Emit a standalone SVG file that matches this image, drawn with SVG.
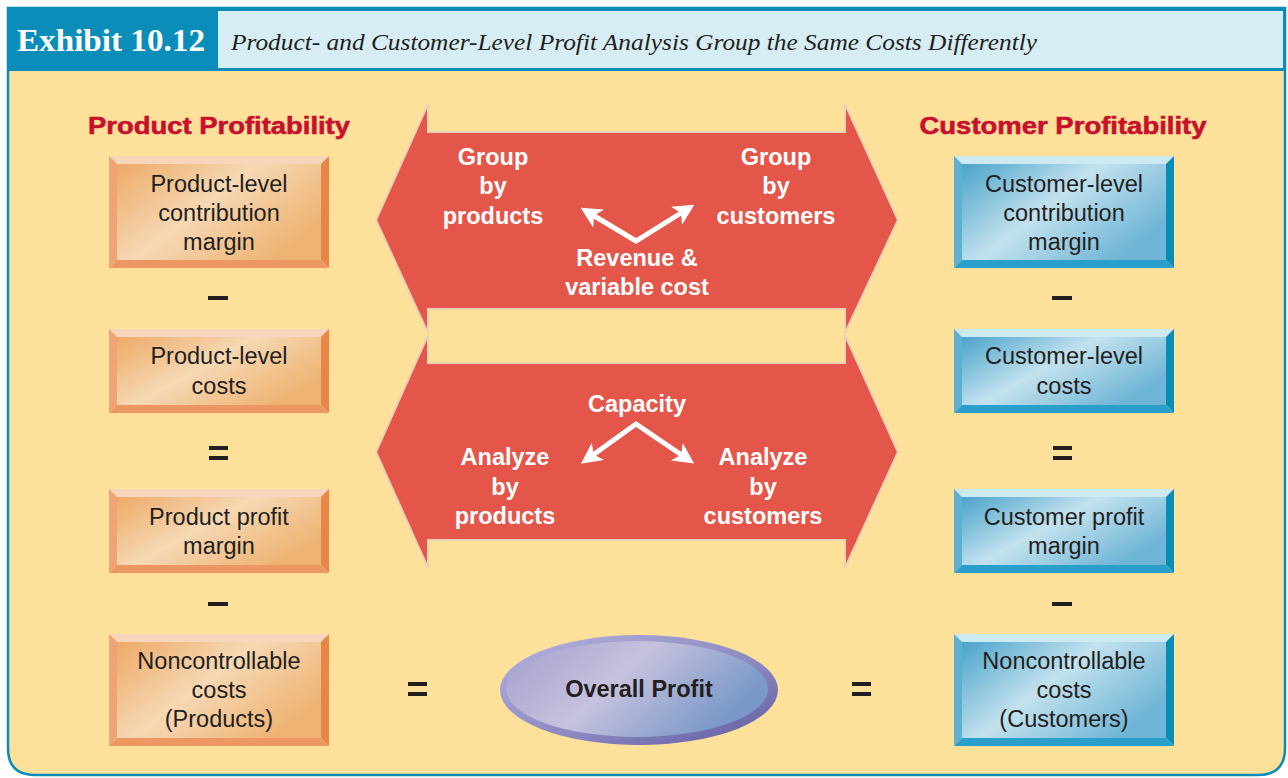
<svg xmlns="http://www.w3.org/2000/svg" width="1288" height="778" viewBox="0 0 1288 778">
  <defs>
    <linearGradient id="orangeFace" x1="0" y1="0" x2="1" y2="0.6">
      <stop offset="0" stop-color="#eeaa66"/>
      <stop offset="0.5" stop-color="#f6d8b4"/>
      <stop offset="1" stop-color="#efb474"/>
    </linearGradient>
    <linearGradient id="blueFace" x1="0" y1="0" x2="1" y2="0.6">
      <stop offset="0" stop-color="#4aa3cb"/>
      <stop offset="0.5" stop-color="#c3e2ee"/>
      <stop offset="1" stop-color="#6fb5d6"/>
    </linearGradient>
    <linearGradient id="ovalFace" x1="0" y1="0" x2="1" y2="0.4">
      <stop offset="0" stop-color="#a29fcc"/>
      <stop offset="0.5" stop-color="#c7c2de"/>
      <stop offset="1" stop-color="#7a98c8"/>
    </linearGradient>
    <linearGradient id="ovalRim" x1="0" y1="0" x2="1" y2="1">
      <stop offset="0" stop-color="#b4b3e0"/>
      <stop offset="0.6" stop-color="#8a86bf"/>
      <stop offset="1" stop-color="#5f5aa0"/>
    </linearGradient>
    <marker id="wh" viewBox="0 0 10 10" refX="7" refY="5" markerWidth="4.2" markerHeight="4.2" orient="auto-start-reverse" markerUnits="strokeWidth">
      <path d="M0,0 L10,5 L0,10 L2.5,5 z" fill="#ffffff"/>
    </marker>
    <style>
      .box text { font-family: "Liberation Sans", Arial, sans-serif; font-size: 23.5px; fill: #231f20; text-anchor: middle; }
      .hdr { font-family: "Liberation Sans", Arial, sans-serif; font-size: 24px; font-weight: bold; fill: #c8102e; stroke: #c8102e; stroke-width: 0.6; text-anchor: middle; }
      .wt { font-family: "Liberation Sans", Arial, sans-serif; font-size: 23.5px; font-weight: bold; fill: #ffffff; text-anchor: middle; }
      .band { fill: #e5564a; stroke: #ecd2b4; stroke-width: 2; }
      .wline { fill: none; stroke: #ffffff; stroke-width: 5; stroke-linejoin: miter; }
      .bar { fill: #231f20; }
    </style>
  </defs>

  <!-- frame -->
  <rect x="0" y="0" width="1288" height="778" fill="#ffffff"/>
  <path d="M8,8 H1285 V748 Q1285,775 1258,775 H35 Q8,775 8,748 Z" fill="#fde19b" stroke="#0a8db8" stroke-width="2.5"/>
  <rect x="8" y="8" width="1277" height="63" fill="#0a8db8"/>
  <rect x="218" y="11" width="1065" height="57" fill="#d6eef3"/>
  <text x="17" y="51" font-family="Liberation Serif, 'Times New Roman', serif" font-size="31" font-weight="bold" fill="#ffffff" textLength="188" lengthAdjust="spacingAndGlyphs">Exhibit 10.12</text>
  <text x="231" y="50" font-family="Liberation Serif, 'Times New Roman', serif" font-size="23" font-style="italic" fill="#231f20" textLength="806" lengthAdjust="spacingAndGlyphs">Product- and Customer-Level Profit Analysis Group the Same Costs Differently</text>

  <!-- column headings -->
  <text class="hdr" x="219" y="134" textLength="262" lengthAdjust="spacingAndGlyphs">Product Profitability</text>
  <text class="hdr" x="1063" y="134" textLength="287" lengthAdjust="spacingAndGlyphs">Customer Profitability</text>

  <!-- double-headed bands -->
  <g id="connectors">
    <polygon class="band" points="376,220 428,104 428,132 845,132 845,104 898,220 845,333 845,309 428,309 428,333"/>
    <polygon class="band" points="376,452 428,335 428,363 845,363 845,335 898,452 845,568 845,540 428,540 428,568"/>
    <polyline class="wline" points="586,211 636,241 689,208" marker-start="url(#wh)" marker-end="url(#wh)"/>
    <polyline class="wline" points="586,460 636,424 689,460" marker-start="url(#wh)" marker-end="url(#wh)"/>
    <text class="wt" x="493" y="165">Group</text>
    <text class="wt" x="493" y="194">by</text>
    <text class="wt" x="493" y="224">products</text>
    <text class="wt" x="776" y="165">Group</text>
    <text class="wt" x="776" y="194">by</text>
    <text class="wt" x="776" y="224">customers</text>
    <text class="wt" x="637" y="266">Revenue &amp;</text>
    <text class="wt" x="637" y="295">variable cost</text>
    <text class="wt" x="637" y="412">Capacity</text>
    <text class="wt" x="505" y="465">Analyze</text>
    <text class="wt" x="505" y="495">by</text>
    <text class="wt" x="505" y="524">products</text>
    <text class="wt" x="763" y="465">Analyze</text>
    <text class="wt" x="763" y="495">by</text>
    <text class="wt" x="763" y="524">customers</text>
  </g>

  <!-- product column -->
  <g id="p1" class="box">
    <polygon points="109,156 329,156 321,164 117,164" fill="#f8d6bb"/>
    <polygon points="109,156 117,164 117,260 109,268" fill="#f0a374"/>
    <polygon points="329,156 329,268 321,260 321,164" fill="#e8864a"/>
    <polygon points="109,268 117,260 321,260 329,268" fill="#ed9862"/>
    <rect x="117" y="164" width="204" height="96" fill="url(#orangeFace)"/>
    <text x="219" y="192">Product-level</text>
    <text x="219" y="221">contribution</text>
    <text x="219" y="250">margin</text>
  </g>
  <g id="p2" class="box">
    <polygon points="109,329 329,329 321,337 117,337" fill="#f8d6bb"/>
    <polygon points="109,329 117,337 117,405 109,413" fill="#f0a374"/>
    <polygon points="329,329 329,413 321,405 321,337" fill="#e8864a"/>
    <polygon points="109,413 117,405 321,405 329,413" fill="#ed9862"/>
    <rect x="117" y="337" width="204" height="68" fill="url(#orangeFace)"/>
    <text x="219" y="364">Product-level</text>
    <text x="219" y="394">costs</text>
  </g>
  <g id="p3" class="box">
    <polygon points="109,489 329,489 321,497 117,497" fill="#f8d6bb"/>
    <polygon points="109,489 117,497 117,565 109,573" fill="#f0a374"/>
    <polygon points="329,489 329,573 321,565 321,497" fill="#e8864a"/>
    <polygon points="109,573 117,565 321,565 329,573" fill="#ed9862"/>
    <rect x="117" y="497" width="204" height="68" fill="url(#orangeFace)"/>
    <text x="219" y="525">Product profit</text>
    <text x="219" y="554">margin</text>
  </g>
  <g id="p4" class="box">
    <polygon points="109,634 329,634 321,642 117,642" fill="#f8d6bb"/>
    <polygon points="109,634 117,642 117,738 109,746" fill="#f0a374"/>
    <polygon points="329,634 329,746 321,738 321,642" fill="#e8864a"/>
    <polygon points="109,746 117,738 321,738 329,746" fill="#ed9862"/>
    <rect x="117" y="642" width="204" height="96" fill="url(#orangeFace)"/>
    <text x="219" y="669">Noncontrollable</text>
    <text x="219" y="698">costs</text>
    <text x="219" y="727">(Products)</text>
  </g>

  <!-- customer column -->
  <g id="c1" class="box">
    <polygon points="954,156 1174,156 1166,164 962,164" fill="#cdeaf2"/>
    <polygon points="954,156 962,164 962,260 954,268" fill="#5cb1d3"/>
    <polygon points="1174,156 1174,268 1166,260 1166,164" fill="#0b8cb7"/>
    <polygon points="954,268 962,260 1166,260 1174,268" fill="#2a9fc9"/>
    <rect x="962" y="164" width="204" height="96" fill="url(#blueFace)"/>
    <text x="1064" y="192">Customer-level</text>
    <text x="1064" y="221">contribution</text>
    <text x="1064" y="250">margin</text>
  </g>
  <g id="c2" class="box">
    <polygon points="954,329 1174,329 1166,337 962,337" fill="#cdeaf2"/>
    <polygon points="954,329 962,337 962,405 954,413" fill="#5cb1d3"/>
    <polygon points="1174,329 1174,413 1166,405 1166,337" fill="#0b8cb7"/>
    <polygon points="954,413 962,405 1166,405 1174,413" fill="#2a9fc9"/>
    <rect x="962" y="337" width="204" height="68" fill="url(#blueFace)"/>
    <text x="1064" y="364">Customer-level</text>
    <text x="1064" y="394">costs</text>
  </g>
  <g id="c3" class="box">
    <polygon points="954,489 1174,489 1166,497 962,497" fill="#cdeaf2"/>
    <polygon points="954,489 962,497 962,565 954,573" fill="#5cb1d3"/>
    <polygon points="1174,489 1174,573 1166,565 1166,497" fill="#0b8cb7"/>
    <polygon points="954,573 962,565 1166,565 1174,573" fill="#2a9fc9"/>
    <rect x="962" y="497" width="204" height="68" fill="url(#blueFace)"/>
    <text x="1064" y="525">Customer profit</text>
    <text x="1064" y="554">margin</text>
  </g>
  <g id="c4" class="box">
    <polygon points="954,634 1174,634 1166,642 962,642" fill="#cdeaf2"/>
    <polygon points="954,634 962,642 962,738 954,746" fill="#5cb1d3"/>
    <polygon points="1174,634 1174,746 1166,738 1166,642" fill="#0b8cb7"/>
    <polygon points="954,746 962,738 1166,738 1174,746" fill="#2a9fc9"/>
    <rect x="962" y="642" width="204" height="96" fill="url(#blueFace)"/>
    <text x="1064" y="669">Noncontrollable</text>
    <text x="1064" y="698">costs</text>
    <text x="1064" y="727">(Customers)</text>
  </g>

  <!-- overall profit -->
  <g id="overall">
    <ellipse cx="639" cy="690" rx="139" ry="55" fill="url(#ovalRim)"/>
    <ellipse cx="637" cy="689" rx="131" ry="48" fill="url(#ovalFace)"/>
    <text x="639" y="697" font-family="Liberation Sans, Arial, sans-serif" font-size="23.5" font-weight="bold" fill="#231f20" text-anchor="middle">Overall Profit</text>
  </g>

  <!-- operators -->
  <g id="operators">
    <rect class="bar" x="208" y="296" width="20" height="4"/>
    <rect class="bar" x="1052" y="296" width="20" height="4"/>
    <rect class="bar" x="208" y="602" width="20" height="4"/>
    <rect class="bar" x="1052" y="602" width="20" height="4"/>
    <rect class="bar" x="209" y="446" width="19" height="4"/>
    <rect class="bar" x="209" y="456" width="19" height="4"/>
    <rect class="bar" x="1053" y="446" width="19" height="4"/>
    <rect class="bar" x="1053" y="456" width="19" height="4"/>
    <rect class="bar" x="408" y="682" width="19" height="4"/>
    <rect class="bar" x="408" y="692" width="19" height="4"/>
    <rect class="bar" x="852" y="682" width="19" height="4"/>
    <rect class="bar" x="852" y="692" width="19" height="4"/>
  </g>
</svg>
